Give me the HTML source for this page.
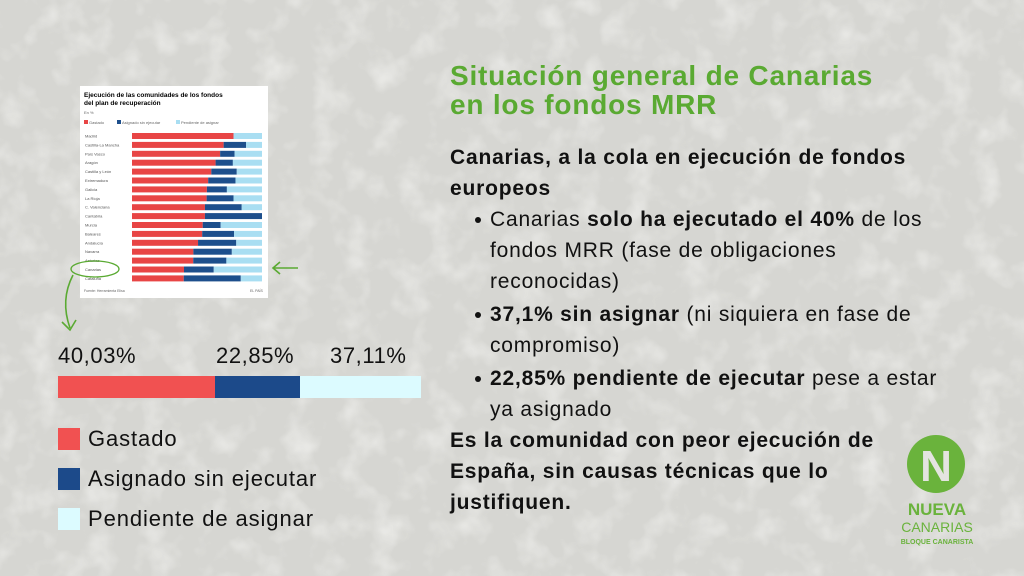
<!DOCTYPE html>
<html><head><meta charset="utf-8"><style>
body{margin:0;width:1024px;height:576px;overflow:hidden;background:#d8d8d4;font-family:"Liberation Sans",sans-serif;position:relative}
.a{position:absolute}
.t{color:#111;font-size:21px;line-height:31px;letter-spacing:0.8px;white-space:nowrap}
.l{font-size:22px;color:#111;letter-spacing:0.9px}
.p{font-size:22px;color:#111;letter-spacing:0.6px}
.b{position:relative;padding-left:40px}
.b:before{content:"";position:absolute;left:25px;top:13px;width:6px;height:6px;border-radius:50%;background:#111}
</style></head><body>
<svg class="a" style="left:0;top:0" width="1024" height="576">
<defs><filter id="n"><feTurbulence type="fractalNoise" baseFrequency="0.035" numOctaves="3" seed="4"/><feColorMatrix values="0 0 0 0 0.93 0 0 0 0 0.93 0 0 0 0 0.91 0 0 0 1.6 -0.75"/></filter></defs>
<rect width="1024" height="576" fill="#d6d6d2"/>
<rect width="1024" height="576" filter="url(#n)" opacity="0.8"/>
</svg>
<svg class="a" style="left:0;top:0" width="1024" height="576">
<rect x="80" y="86" width="188" height="212" fill="#fff"/>
<text x="84" y="97" font-size="6.5" font-weight="bold" font-family="Liberation Sans">Ejecución de las comunidades de los fondos</text>
<text x="84" y="105" font-size="6.5" font-weight="bold" font-family="Liberation Sans">del plan de recuperación</text>
<text x="84" y="114" font-size="4" fill="#666">En %</text>
<rect x="84" y="120" width="4" height="4" fill="#e84545"/><text x="89" y="124" font-size="4" fill="#666">Gastado</text>
<rect x="117" y="120" width="4" height="4" fill="#1d4f8c"/><text x="122" y="124" font-size="4" fill="#666">Asignado sin ejecutar</text>
<rect x="176" y="120" width="4" height="4" fill="#a9def2"/><text x="181" y="124" font-size="4" fill="#666">Pendiente de asignar</text>
<g font-size="4" fill="#555" font-family="Liberation Sans">
<g id="rows"></g>
</g>
<text x="84" y="292" font-size="3.5" fill="#666">Fuente: Herramienta Elisa</text>
<text x="250" y="292" font-size="3.5" fill="#666">EL PAÍS</text>
<ellipse cx="95" cy="269" rx="24" ry="8" fill="none" stroke="#5aaa32" stroke-width="1.3"/>
<path d="M73 275 Q60 300 70 328" fill="none" stroke="#5aaa32" stroke-width="1.6"/>
<path d="M62 322 L70 330 L76 320" fill="none" stroke="#5aaa32" stroke-width="1.6"/>
<path d="M298 268 L273 268 M280 262 L273 268 L280 274" fill="none" stroke="#5aaa32" stroke-width="1.6"/>
<rect x="58" y="376" width="157" height="22" fill="#f15151"/>
<rect x="215" y="376" width="85" height="22" fill="#1c4a8a"/>
<rect x="300" y="376" width="121" height="22" fill="#dcfbff"/>
<rect x="58" y="428" width="22" height="22" fill="#f15151"/>
<rect x="58" y="468" width="22" height="22" fill="#1c4a8a"/>
<rect x="58" y="508" width="22" height="22" fill="#dcfbff"/>
<circle cx="936" cy="464" r="29" fill="#6ab33c"/>
<text x="936" y="481" text-anchor="middle" font-size="44" font-weight="bold" fill="#e4e4e0" font-family="Liberation Sans">N</text>
<text x="937" y="515" text-anchor="middle" font-size="17" font-weight="bold" fill="#6ab33c">NUEVA</text>
<text x="937" y="532" text-anchor="middle" font-size="14" fill="#6ab33c">CANARIAS</text>
<text x="937" y="544" text-anchor="middle" font-size="7" font-weight="bold" fill="#6ab33c">BLOQUE CANARISTA</text>
</svg>
<div class="a p" style="left:58px;top:343px">40,03%</div>
<div class="a p" style="left:216px;top:343px">22,85%</div>
<div class="a p" style="left:330px;top:343px">37,11%</div>
<div class="a l" style="left:88px;top:426px">Gastado</div>
<div class="a l" style="left:88px;top:466px">Asignado sin ejecutar</div>
<div class="a l" style="left:88px;top:506px">Pendiente de asignar</div>
<div class="a" style="left:450px;top:61px;font-size:28px;font-weight:bold;color:#5aaa32;line-height:29px;letter-spacing:0.8px;white-space:nowrap">Situación general de Canarias<br>en los fondos MRR</div>
<div class="a t" style="left:450px;top:142px">
<b>Canarias, a la cola en ejecución de fondos<br>europeos</b>
<div class="b">Canarias <b>solo ha ejecutado el 40%</b> de los<br>fondos MRR (fase de obligaciones<br>reconocidas)</div>
<div class="b" style="margin-top:2px"><b>37,1% sin asignar</b> (ni siquiera en fase de<br>compromiso)</div>
<div class="b" style="margin-top:2px"><b>22,85% pendiente de ejecutar</b> pese a estar<br>ya asignado</div>
<b>Es la comunidad con peor ejecución de<br>España, sin causas técnicas que lo<br>justifiquen.</b>
</div>
<script>
var d=[["Madrid",78.1,0,21.9],["Castilla-La Mancha",70.5,17.2,12.3],["País Vasco",67.8,11.1,21.1],["Aragón",64.3,13.3,22.4],["Castilla y León",61,19.6,19.4],["Extremadura",58.6,21,20.4],["Galicia",57.6,15.4,27],["La Rioja",57.4,20.7,21.9],["C. Valenciana",56.1,28.3,15.6],["Cantabria",56.1,43.9,0],["Murcia",54.4,13.8,31.8],["Baleares",54,24.5,21.5],["Andalucía",50.8,29.4,19.8],["Navarra",47.2,29.6,23.2],["Asturias",47.1,25.5,27.4],["Canarias",40,22.9,37.1],["Cataluña",39.8,43.9,16.3]];
var g=document.getElementById("rows"),s="";
d.forEach(function(r,i){var y=133+i*8.9,x=132,w=130;
s+='<text x="85" y="'+(y+4.5)+'">'+r[0]+'</text>';
s+='<rect x="'+x+'" y="'+y+'" width="'+(w*r[1]/100)+'" height="6" fill="#e84545"/>';
s+='<rect x="'+(x+w*r[1]/100)+'" y="'+y+'" width="'+(w*r[2]/100)+'" height="6" fill="#1d4f8c"/>';
s+='<rect x="'+(x+w*(r[1]+r[2])/100)+'" y="'+y+'" width="'+(w*r[3]/100)+'" height="6" fill="#a9def2"/>';});
g.innerHTML=s;
</script>
</body></html>
